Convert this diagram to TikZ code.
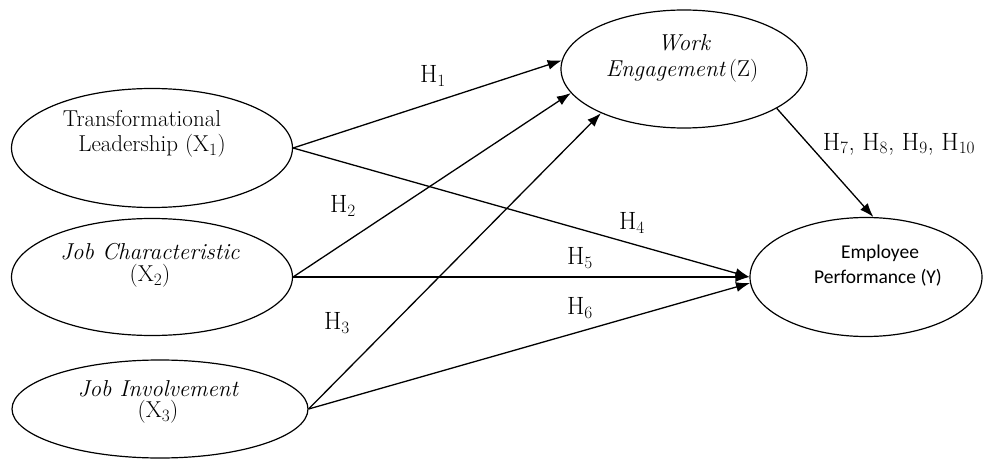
\documentclass[tikz,border=0pt]{standalone}
\usepackage{fontspec}
\newfontfamily\calib{Carlito}
\usetikzlibrary{shapes.geometric,arrows.meta}
\begin{document}
\begin{tikzpicture}[x=1pt,y=-1pt,
  oval/.style={draw,ellipse,inner sep=0pt,line width=1.2pt},
  lbl/.style={font=\fontsize{23}{26}\selectfont,inner sep=0pt},
  ilbl/.style={font=\fontsize{23}{26}\selectfont\itshape,inner sep=0pt},
  hyp/.style={font=\fontsize{25}{28}\selectfont,inner sep=0pt},
  ylbl/.style={font=\calib\fontsize{19.5}{22}\selectfont,inner sep=0pt},
  arr/.style={line width=1.3pt,-{Latex[length=14pt,width=10pt]}}]
\useasboundingbox (0,0) rectangle (983,460);
% ellipses
\node[oval,minimum width=281pt,minimum height=119pt] (x1) at (152,148) {};
\node[oval,minimum width=281pt,minimum height=117pt] (x2) at (152,277) {};
\node[oval,minimum width=296pt,minimum height=98pt] (x3) at (160,409) {};
\node[oval,minimum width=246pt,minimum height=118pt] (z) at (684,69) {};
\node[oval,minimum width=232pt,minimum height=119pt] (y) at (866,277) {};
% texts
\node[lbl] (x1a) at (142,119) {Transformational};
\node[lbl] (x1b) at (152,146) {Leadership ($\mathrm{X}_1$)};
\node[ilbl] (x2a) at (150,252) {Job Characteristic};
\node[lbl] (x2b) at (150,276) {($\mathrm{X}_2$)};
\node[ilbl] (x3a) at (158,389) {Job Involvement};
\node[lbl] (x3b) at (158,412) {($\mathrm{X}_3$)};
\node[ilbl] (za) at (684,43) {Work};
\node[lbl] (zb) at (682,71) {\itshape Engagement\,\upshape(Z)};
\node[ylbl] (ya) at (880,253) {Employee};
\node[ylbl] (yb) at (878,278) {Performance (Y)};
% arrows
\draw[arr] (x1.east) -- (z.176);
\draw[arr] (x2.east) -- (z.192);
\draw[arr] (x3.east) -- (z.208);
\draw[arr] (x1.east) -- (y.west);
\draw[arr] (x2.east) -- (y.west);
\draw[arr] (x3.east) -- (y.183);
\draw[arr] (z.-23) -- (y.83);
% hypothesis labels
\node[hyp] (h1) at (433,76) {H$_1$};
\node[hyp] (h2) at (343,206) {H$_2$};
\node[hyp] (h3) at (337,323) {H$_3$};
\node[hyp] (h4) at (632,223) {H$_4$};
\node[hyp] (h5) at (580,258) {H$_5$};
\node[hyp] (h6) at (580,308) {H$_6$};
\node[hyp] (h7) at (899,144) {H$_7$, H$_8$, H$_9$, H$_{10}$};
\end{tikzpicture}
\end{document}
